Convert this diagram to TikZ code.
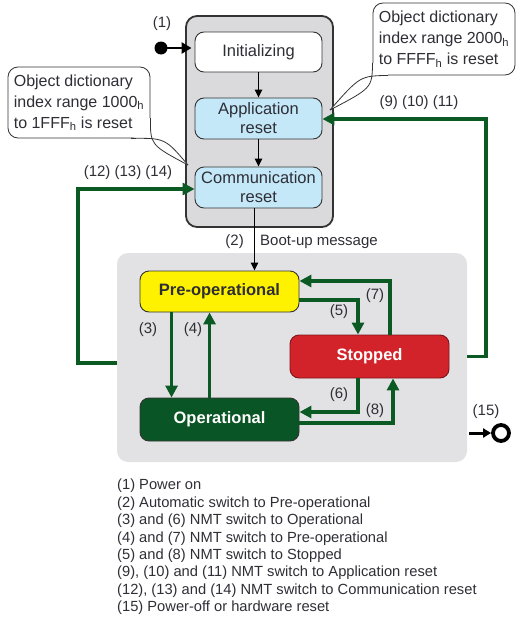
\documentclass[tikz,border=0pt]{standalone}
\usepackage{fontspec}
\setmainfont{Liberation Sans}
\usetikzlibrary{arrows.meta}
\definecolor{grn}{HTML}{0B5A24}
\definecolor{opgreen}{HTML}{0A5525}
\definecolor{stopred}{HTML}{D2232A}
\definecolor{preyel}{HTML}{FFF200}
\definecolor{lblue}{HTML}{C4E8F8}
\definecolor{boxgray}{HTML}{DADADC}
\definecolor{reggray}{HTML}{E2E2E4}
\definecolor{txt}{HTML}{2E2E36}
\definecolor{edge}{HTML}{333333}
\begin{document}
\begin{tikzpicture}[x=1pt,y=-1pt,
  statebox/.style={draw=edge, line width=0.9pt, rounded corners=9pt, inner sep=0pt,
     align=center, text=txt, font=\fontsize{16.5}{19}\selectfont},
  bigstate/.style={statebox, minimum width=159pt, font=\fontsize{16.5}{19}\selectfont\bfseries},
  lbl/.style={text=txt, font=\fontsize{15}{18}\selectfont, inner sep=0pt},
  callout/.style={draw=edge, line width=0.8pt, fill=white, rounded corners=10pt, align=left,
     text=txt, font=\fontsize{16}{21}\selectfont, inner sep=0pt},
  garr/.style={grn, line width=3.6pt, -{Triangle[length=12pt,width=12pt]}},
  barr/.style={black, line width=1.5pt, -{Triangle[length=8pt,width=7.5pt]}}
]
\useasboundingbox (0,0) rectangle (523,621);

% containers
\node[draw=edge, line width=1.8pt, fill=boxgray, rounded corners=11pt, minimum width=147pt, minimum height=211pt, inner sep=0pt] (top) at (259.5,121.5) {};
\node[fill=reggray, rounded corners=11pt, minimum width=350pt, minimum height=209pt, inner sep=0pt] (bot) at (292,357.5) {};

% states
\node[statebox, fill=white, minimum width=127pt, minimum height=40pt] (init) at (258.5,52) {Initializing};
\node[statebox, fill=lblue, minimum width=127pt, minimum height=41pt] (app) at (258.5,118.5) {Application\\reset};
\node[statebox, fill=lblue, minimum width=127pt, minimum height=41pt] (comm) at (258.5,187.5) {Communication\\reset};
\node[bigstate, fill=preyel, minimum height=41pt] (pre) at (219.5,291.5) {Pre-operational};
\node[bigstate, fill=stopred, draw=stopred!60!black, text=white, minimum height=43pt] (stop) at (369.5,356.5) {Stopped};
\node[bigstate, fill=opgreen, draw=edge, text=white, minimum height=43pt] (op) at (219.5,419.5) {Operational};

% black arrows
\draw[barr] (init) -- (app);
\draw[barr] (app) -- (comm);
\draw[barr] ([xshift=-4pt]comm.south) -- ([xshift=-4pt]comm.south |- pre.north);
\node[lbl, anchor=east] (l2) at (244,242) {(2)};
\node[lbl, anchor=west] (lboot) at (260,242) {Boot-up message};

% green arrows within the NMT states
\draw[garr] ([xshift=32pt]pre.south west) -- ([xshift=32pt]op.north west);
\draw[garr] ([xshift=70pt]op.north west) -- ([xshift=70pt]pre.south west);
\draw[garr] ([yshift=-8.5pt]pre.east) -| ([xshift=-11.5pt]stop.north);
\draw[garr] ([xshift=20.5pt]stop.north) |- ([yshift=10.5pt]pre.east);
\draw[garr] ([xshift=-11.5pt]stop.south) |- ([yshift=7.5pt]op.east);
\draw[garr] ([yshift=-3.5pt]op.east) -| ([xshift=23.5pt]stop.south);
\node[lbl] (l3) at (148,330) {(3)};
\node[lbl] (l4) at (193,330) {(4)};
\node[lbl] (l5) at (339,312) {(5)};
\node[lbl] (l7) at (375,296) {(7)};
\node[lbl] (l6) at (339,395) {(6)};
\node[lbl] (l8) at (375,411) {(8)};

% reset loops
\coordinate (rc) at (486,119);
\draw[garr] (stop.east -| bot.east) -| (rc) -- (rc -| app.east);
\node[lbl] (l911) at (419,103) {(9) (10) (11)};
\coordinate (lc) at (78,189);
\draw[garr] ([yshift=-5.5pt]bot.west) -| (lc) -- (lc -| comm.west);
\node[lbl] (l1214) at (128,173) {(12) (13) (14)};

% (1) power on
\node[circle, fill=black, minimum size=13pt, inner sep=0pt] (p1) at (161,48) {};
\draw[black, line width=2.8pt, -{Triangle[length=10pt,width=11pt]}] (p1.center) -- ([xshift=-3pt]init.west |- p1);
\node[lbl] (l1) at (162,24) {(1)};

% (15) power off
\node[circle, draw=black, line width=3.8pt, minimum size=16pt, inner sep=0pt] (p15) at (501,433) {};
\coordinate (s15) at (469,433);
\draw[black, line width=3pt, -{Triangle[length=8pt,width=9pt]}] (s15) -- (p15.west);
\node[lbl] (l15) at (486,412) {(15)};

% callouts
\node[callout, minimum width=142pt, minimum height=71pt] (cl) at (79,102.5)
  {Object dictionary\\index range 1000\textsubscript{h}\\to 1FFF\textsubscript{h} is reset};
\coordinate (tl) at (188,165);
\fill[white] (131,136) -- (tl) -- (149.5,118) -- (140,126) -- cycle;
\draw[edge, line width=0.8pt] (131,138.4) .. controls (165,138) .. (tl);
\draw[edge, line width=0.8pt] (150.4,118) .. controls (150.4,145) .. (tl);

\node[callout, minimum width=142pt, minimum height=72pt] (cr) at (444,39)
  {Object dictionary\\index range 2000\textsubscript{h}\\to FFFF\textsubscript{h} is reset};
\coordinate (tr) at (330,110);
\fill[white] (373.4,63) -- (tr) -- (388,74.6) -- cycle;
\draw[edge, line width=0.8pt] (372.6,63) .. controls (372,88) .. (tr);
\draw[edge, line width=0.8pt] (388,75.4) .. controls (360,76) .. (tr);

% legend
\node[anchor=north west, align=left, text=txt, inner sep=0pt, font=\fontsize{14.7}{17.4}\selectfont] (legend) at (117,479)
  {(1) Power on\\
   (2) Automatic switch to Pre-operational\\
   (3) and (6) NMT switch to Operational\\
   (4) and (7) NMT switch to Pre-operational\\
   (5) and (8) NMT switch to Stopped\\
   (9), (10) and (11) NMT switch to Application reset\\
   (12), (13) and (14) NMT switch to Communication reset\\
   (15) Power-off or hardware reset};
\end{tikzpicture}
\end{document}
